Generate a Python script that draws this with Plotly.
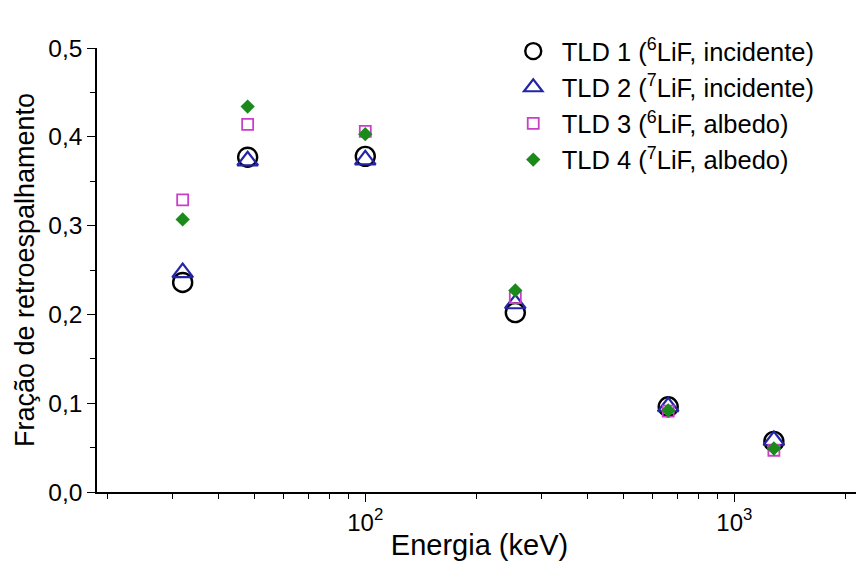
import plotly.graph_objects as go

energies = [32, 48, 100, 255, 662, 1280]
tld1 = [0.236, 0.377, 0.378, 0.202, 0.096, 0.057]
tld2 = [0.247, 0.373, 0.374, 0.212, 0.096, 0.058]
tld3 = [0.329, 0.414, 0.406, 0.219, 0.091, 0.047]
tld4 = [0.307, 0.434, 0.403, 0.227, 0.092, 0.049]
names = ["TLD 1 (<sup>6</sup>LiF, incidente)", "TLD 2 (<sup>7</sup>LiF, incidente)",
         "TLD 3 (<sup>6</sup>LiF, albedo)", "TLD 4 (<sup>7</sup>LiF, albedo)"]
y_ticks = [0.0, 0.1, 0.2, 0.3, 0.4, 0.5]
x_ticks = [100, 1000]
x_ticktext = ["10<sup>2</sup>", "10<sup>3</sup>"]
x_minor = [20, 30, 40, 50, 60, 70, 80, 90, 200, 300, 400, 500, 600, 700, 800, 900, 2000]

fig = go.Figure()
styles = [
    dict(symbol="circle-open", size=19, color="black", line=dict(width=2.4, color="black")),
    dict(symbol="triangle-up-open", size=18, color="#2424a8", line=dict(width=2.2, color="#2424a8")),
    dict(symbol="square-open", size=11, color="#c93fc9", line=dict(width=1.8, color="#c93fc9")),
    dict(symbol="diamond", size=11, color="#1b8a1b", line=dict(width=0)),
]
for ys, nm, st in zip([tld1, tld2, tld3, tld4], names, styles):
    fig.add_trace(go.Scatter(x=energies, y=ys, mode="markers", name=nm, marker=st))

font = "Liberation Sans, Arial, sans-serif"
fig.update_layout(
    width=864, height=569,
    margin=dict(l=89, r=10, t=40, b=85),
    plot_bgcolor="white", paper_bgcolor="white",
    separators=", ",
    font=dict(family=font, color="black", size=24),
    legend=dict(x=0.533, y=1.045, xanchor="left", yanchor="top", itemwidth=47,
                font=dict(size=25.5, family=font), bgcolor="rgba(0,0,0,0)",
                tracegroupgap=0, itemsizing="trace"),
    xaxis=dict(type="log", range=[1.273, 3.346], showgrid=False, zeroline=False,
               automargin=False,
               showline=True, linecolor="black", linewidth=1.5,
               ticks="outside", ticklen=8, tickwidth=1.3, tickcolor="black",
               tickvals=x_ticks, ticktext=x_ticktext, tickfont=dict(size=24),
               minor=dict(ticks="outside", ticklen=5, tickwidth=1.2, tickcolor="black",
                          tickvals=x_minor, showgrid=False),
               title=dict(text="Energia (keV)", font=dict(size=29), standoff=0)),
    yaxis=dict(range=[0, 0.5], showgrid=False, zeroline=False,
               automargin=False,
               showline=True, linecolor="black", linewidth=1.5,
               ticks="outside", ticklen=8, tickwidth=1.3, tickcolor="black",
               tickvals=y_ticks, tickformat=".1f", tickfont=dict(size=24.5),
               minor=dict(ticks="outside", ticklen=5, tickwidth=1.2, tickcolor="black",
                          dtick=0.05, showgrid=False),
               title=dict(text="Fração de retroespalhamento", font=dict(size=27), standoff=6)),
)
fig.write_html("out.html")
